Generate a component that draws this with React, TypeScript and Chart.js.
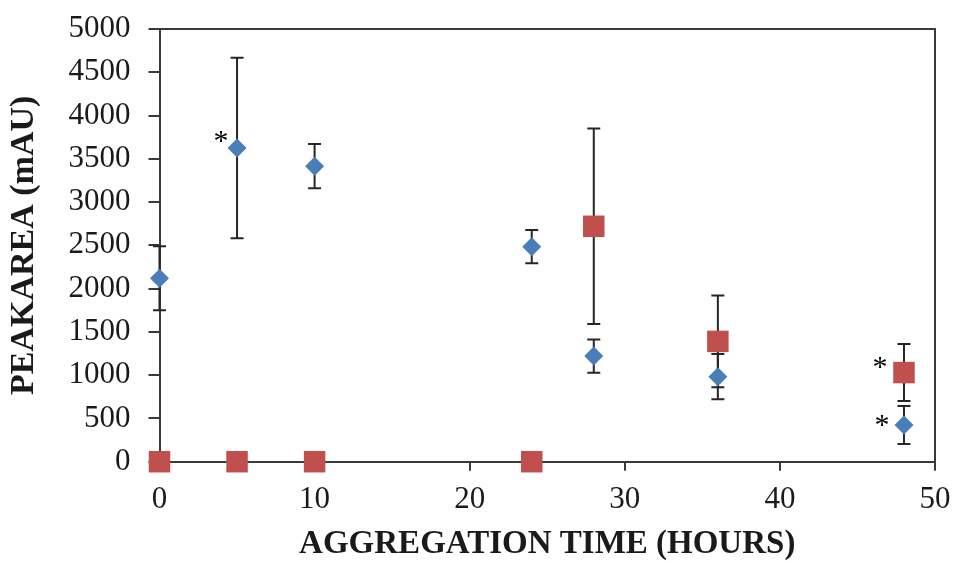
import React, { useEffect, useRef } from "react";
import { Chart, registerables } from "chart.js";

Chart.register(...registerables);

const hours = [0, 5, 10, 24, 28, 36, 48];
const blueValues = [2120, 3624, 3415, 2485, 1221, 983, 424];
const blueErrors = [370, 1043, 256, 192, 192, 262, 220];
const redValues = [0, 0, 0, 0, 2720, 1390, 1030];
const redErrors = [0, 0, 0, 0, 1130, 530, 330];
const yTicks = [0, 500, 1000, 1500, 2000, 2500, 3000, 3500, 4000, 4500, 5000];
const xTicks = [0, 10, 20, 30, 40, 50];
const starSeries = [0, 1, 0];
const starHours = [5, 48, 48];
const starOffsets = [
  [-16, -12],
  [-24, -11],
  [-22, -5],
];

const BLUE = "#4a7ebb";
const RED = "#c0504d";
const AXIS = "#3a3a3a";
const TEXT = "#1a1a1a";

const errorsBySeries = [blueErrors, redErrors];
const valuesBySeries = [blueValues, redValues];

const errorBarPlugin = {
  id: "errorBars",
  beforeDatasetsDraw(chart: any) {
    const ctx = chart.ctx;
    const xs = chart.scales.x;
    const ys = chart.scales.y;
    ctx.save();
    ctx.strokeStyle = "#262626";
    ctx.lineWidth = 2;
    const cap = 6.5;
    errorsBySeries.forEach((errs, s) => {
      const vals = valuesBySeries[s];
      errs.forEach((e, i) => {
        if (!e) return;
        const px = xs.getPixelForValue(hours[i]);
        const top = ys.getPixelForValue(vals[i] + e);
        const bot = ys.getPixelForValue(vals[i] - e);
        ctx.beginPath();
        ctx.moveTo(px, top);
        ctx.lineTo(px, bot);
        ctx.moveTo(px - cap, top);
        ctx.lineTo(px + cap, top);
        ctx.moveTo(px - cap, bot);
        ctx.lineTo(px + cap, bot);
        ctx.stroke();
      });
    });
    ctx.restore();
  },
  afterDraw(chart: any) {
    const ctx = chart.ctx;
    const a = chart.chartArea;
    const xs = chart.scales.x;
    const ys = chart.scales.y;
    ctx.save();
    ctx.strokeStyle = AXIS;
    ctx.lineWidth = 2;
    ctx.beginPath();
    ctx.moveTo(a.left, a.top);
    ctx.lineTo(a.right, a.top);
    ctx.lineTo(a.right, a.bottom);
    ctx.stroke();
    ctx.fillStyle = "#000";
    ctx.font = "30px 'Liberation Serif'";
    ctx.textAlign = "center";
    ctx.textBaseline = "alphabetic";
    starSeries.forEach((s, k) => {
      const idx = hours.indexOf(starHours[k]);
      const v = valuesBySeries[s][idx];
      const px = xs.getPixelForValue(starHours[k]) + starOffsets[k][0];
      const py = ys.getPixelForValue(v) + starOffsets[k][1];
      ctx.fillText("*", px, py + 14);
    });
    ctx.restore();
  },
};

export default function App() {
  const ref = useRef<HTMLCanvasElement | null>(null);
  useEffect(() => {
    if (!ref.current) return;
    const chart = new Chart(ref.current, {
      type: "scatter",
      data: {
        datasets: [
          {
            label: "A",
            data: hours.map((h, i) => ({ x: h, y: blueValues[i] })),
            pointStyle: "rectRot",
            pointRadius: 9.5,
            pointHoverRadius: 9.5,
            backgroundColor: BLUE,
            borderColor: BLUE,
            borderWidth: 0,
            clip: false as any,
          },
          {
            label: "B",
            data: hours.map((h, i) => ({ x: h, y: redValues[i] })),
            pointStyle: "rect",
            pointRadius: 15.2,
            pointHoverRadius: 15.2,
            backgroundColor: RED,
            borderColor: RED,
            borderWidth: 0,
            clip: false as any,
          },
        ],
      },
      options: {
        animation: false,
        responsive: true,
        maintainAspectRatio: false,
        events: [],
        layout: { padding: { left: 0, right: 19, top: 29, bottom: 0 } },
        plugins: {
          legend: { display: false },
          tooltip: { enabled: false },
        },
        scales: {
          x: {
            type: "linear",
            min: 0,
            max: 50,
            afterFit(scale: any) {
              scale.height = 103.3;
              scale.paddingLeft = 0;
              scale.paddingRight = 0;
            },
            afterBuildTicks(scale: any) {
              scale.ticks = xTicks.map((v) => ({ value: v }));
            },
            border: { display: true, color: AXIS, width: 2 },
            grid: {
              drawOnChartArea: false,
              drawTicks: true,
              tickLength: 9,
              color: AXIS,
              lineWidth: 2,
            },
            ticks: {
              padding: 11,
              color: TEXT,
              font: { family: "'Liberation Serif'", size: 31 },
              maxRotation: 0,
              callback: (v: any) => String(v),
            },
            title: {
              display: true,
              text: "AGGREGATION TIME (HOURS)",
              color: TEXT,
              font: { family: "'Liberation Serif'", size: 33, weight: "bold" },
              padding: { top: 0, bottom: 1 },
            },
          },
          y: {
            type: "linear",
            min: 0,
            max: 5000,
            afterFit(scale: any) {
              scale.width = 159.5;
              scale.paddingTop = 0;
              scale.paddingBottom = 0;
            },
            afterBuildTicks(scale: any) {
              scale.ticks = yTicks.map((v) => ({ value: v }));
            },
            border: { display: true, color: AXIS, width: 2 },
            grid: {
              drawOnChartArea: false,
              drawTicks: true,
              tickLength: 11,
              color: AXIS,
              lineWidth: 2,
            },
            ticks: {
              padding: 18,
              color: TEXT,
              font: { family: "'Liberation Serif'", size: 31 },
              callback: (v: any) => String(v),
            },
            title: {
              display: true,
              text: "PEAKAREA (mAU)",
              color: TEXT,
              font: { family: "'Liberation Serif'", size: 34, weight: "bold" },
              padding: { top: 4, bottom: 0 },
            },
          },
        },
      } as any,
      plugins: [errorBarPlugin],
    });
    return () => chart.destroy();
  }, []);
  return (
    <div style={{ position: "absolute", left: 0, top: 0, width: 954, height: 565, background: "#fff" }}>
      <canvas ref={ref} />
    </div>
  );
}
